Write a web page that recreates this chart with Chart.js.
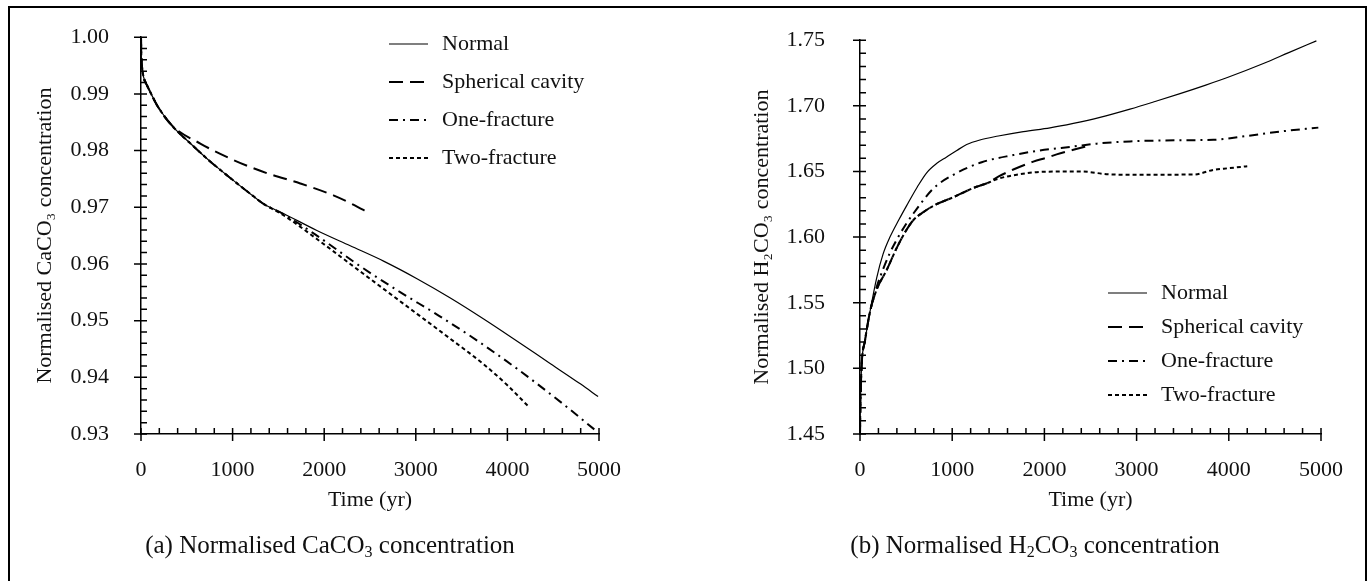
<!DOCTYPE html>
<html>
<head>
<meta charset="utf-8">
<script src="https://cdn.jsdelivr.net/npm/chart.js@4.4.1/dist/chart.umd.min.js"></script>
<style>
body{margin:0;background:#fff;width:1372px;height:581px;overflow:hidden;position:relative;font-family:"Liberation Serif","Times New Roman",serif;}
#frame{position:absolute;left:8px;top:6px;width:1355px;height:620px;border:2px solid #000;}
.box{position:absolute;top:0;width:686px;height:581px;}
.cap{position:absolute;top:531px;font-size:25px;line-height:28px;color:#111;white-space:nowrap;transform:translateX(-50%);}
.cap sub{font-size:16px;line-height:0;vertical-align:-4px;}
</style>
</head>
<body>
<div id="frame"></div>
<div class="box" style="left:0"><canvas id="caco3"></canvas></div>
<div class="box" style="left:686px"><canvas id="h2co3"></canvas></div>
<div class="cap" style="left:330px">(a) Normalised CaCO<sub>3</sub> concentration</div>
<div class="cap" style="left:1035px">(b) Normalised H<sub>2</sub>CO<sub>3</sub> concentration</div>
<script>
const labels = ['Normal', 'Spherical cavity', 'One-fracture', 'Two-fracture'];

// (a) CaCO3 - common early part, then each case
const caEarlyT = [0, 3, 11, 28, 66, 102, 175, 333];
const caEarly = [1.000, 0.9970, 0.9948, 0.9930, 0.9915, 0.9903, 0.9880, 0.9845];

const caNormalT = [543, 761, 1011, 1191, 1337, 1555, 1920, 2284, 2648, 3013, 3377, 3741, 4050, 4470, 4800, 4990];
const caNormal = [0.9812, 0.9780, 0.9747, 0.9724, 0.9706, 0.9689, 0.9659, 0.9632, 0.9605, 0.9574, 0.9540, 0.9503, 0.9470, 0.9424, 0.9388, 0.9366];

const caSphT = [652, 1014, 1377, 1739, 2101, 2300, 2500];
const caSph = [0.9812, 0.9783, 0.9760, 0.9742, 0.9721, 0.9706, 0.9689];

const caOneT = [543, 761, 1011, 1191, 1337, 1555, 1920, 2393, 2812, 3249, 3686, 4106, 4600, 4950];
const caOne = [0.9812, 0.9780, 0.9747, 0.9724, 0.9706, 0.9688, 0.9650, 0.9596, 0.9552, 0.9509, 0.9463, 0.9415, 0.9354, 0.9308];

const caTwoT = [543, 761, 1011, 1191, 1337, 1555, 1920, 2284, 2648, 3013, 3377, 3741, 4000, 4233];
const caTwo = [0.9812, 0.9780, 0.9747, 0.9724, 0.9706, 0.9686, 0.9644, 0.9600, 0.9556, 0.9512, 0.9468, 0.9423, 0.9386, 0.9348];

// (b) H2CO3
const hEarlyT = [0, 3, 8, 18, 54, 108];
const hEarly = [1.450, 1.468, 1.483, 1.503, 1.521, 1.543];

const hNormalT = [181, 250, 325, 420, 506, 620, 723, 830, 940, 1050, 1157, 1300, 1500, 1772, 2061, 2314, 2603, 2928, 3200, 3471, 3750, 4013, 4375, 4650, 4950];
const hNormal = [1.569, 1.587, 1.600, 1.613, 1.624, 1.638, 1.649, 1.656, 1.661, 1.666, 1.6705, 1.674, 1.677, 1.6804, 1.6832, 1.6866, 1.6912, 1.6975, 1.7033, 1.7093, 1.7158, 1.7223, 1.7322, 1.7405, 1.7495];

const hOneT = [181, 253, 325, 398, 500, 579, 795, 1000, 1320, 1663, 1952, 2314, 2567, 2928, 3471, 3832, 4194, 4555, 4971];
const hOne = [1.562, 1.576, 1.588, 1.598, 1.610, 1.618, 1.637, 1.647, 1.657, 1.6625, 1.666, 1.669, 1.6712, 1.6729, 1.6738, 1.6741, 1.6770, 1.6804, 1.6834];

const hLowT = [181, 290, 400, 500, 580, 687, 800, 1000, 1250, 1377];
const hLow = [1.560, 1.575, 1.592, 1.605, 1.613, 1.619, 1.624, 1.630, 1.638, 1.641];

const hSphT = [1500, 1663, 1880, 2025, 2133, 2314, 2500];
const hSph = [1.646, 1.6515, 1.6575, 1.6605, 1.6630, 1.6665, 1.6700];

const hTwoT = [1500, 1700, 2000, 2400, 2700, 3000, 3620, 3832, 4000, 4200];
const hTwo = [1.6445, 1.6475, 1.6498, 1.6500, 1.6478, 1.6475, 1.6477, 1.6512, 1.6525, 1.6540];

const xTicks = { min: 0, max: 5000, step: 200, major: 1000 };
const caTicks = { min: 0.93, max: 1.00, step: 0.002, major: 0.01 };
const hTicks = { min: 1.45, max: 1.75, step: 0.01, major: 0.05 };

const serif = '"Liberation Serif", "Times New Roman", serif';
Chart.defaults.font.family = serif;
Chart.defaults.color = '#111';

function pts(ts, vs) {
    return ts.map((t, i) => ({ x: t, y: vs[i] }));
}

const styles = [
    { borderWidth: 1.2, borderDash: [] },
    { borderWidth: 2, borderDash: [14, 7] },
    { borderWidth: 2, borderDash: [9, 5, 2, 5] },
    { borderWidth: 2, borderDash: [4, 3] }
];

function line(i, data) {
    return {
        label: labels[i],
        data: data,
        borderColor: '#000',
        borderWidth: styles[i].borderWidth,
        borderDash: styles[i].borderDash,
        pointRadius: 0,
        fill: false,
        clip: false,
        cubicInterpolationMode: 'monotone'
    };
}

function isMajor(v, step) {
    const r = v / step;
    return Math.abs(r - Math.round(r)) < 1e-6;
}

// major ticks cross the axis, minor ticks point inwards
const axisMarks = {
    id: 'axisMarks',
    afterDatasetsDraw(chart, args, opts) {
        const ctx = chart.ctx;
        const area = chart.chartArea;
        const { x, y } = chart.scales;
        ctx.save();
        ctx.strokeStyle = '#000';
        ctx.lineWidth = 1.5;
        ctx.beginPath();
        x.ticks.forEach(t => {
            const px = x.getPixelForValue(t.value);
            ctx.moveTo(px, area.bottom + (isMajor(t.value, opts.xMajor) ? 7 : 0));
            ctx.lineTo(px, area.bottom - 6);
        });
        y.ticks.forEach(t => {
            const py = y.getPixelForValue(t.value);
            ctx.moveTo(area.left - (isMajor(t.value, opts.yMajor) ? 7 : 0), py);
            ctx.lineTo(area.left + 6, py);
        });
        ctx.stroke();
        ctx.restore();
    }
};

const sideLegend = {
    id: 'sideLegend',
    afterDraw(chart, args, opts) {
        const ctx = chart.ctx;
        ctx.save();
        ctx.font = '22px ' + serif;
        ctx.textBaseline = 'middle';
        chart.data.datasets.forEach((ds, i) => {
            const yy = opts.top + i * opts.gap;
            ctx.strokeStyle = '#000';
            ctx.lineWidth = ds.borderWidth;
            ctx.setLineDash(ds.borderDash);
            ctx.beginPath();
            ctx.moveTo(opts.left, yy);
            ctx.lineTo(opts.left + 39, yy);
            ctx.stroke();
            ctx.setLineDash([]);
            ctx.fillStyle = '#111';
            ctx.fillText(ds.label, opts.left + 53, yy);
        });
        ctx.restore();
    }
};

function makeOptions(c) {
    return {
        responsive: true,
        maintainAspectRatio: false,
        animation: false,
        layout: { padding: { top: 37, right: c.padRight, bottom: 67, left: 0 } },
        plugins: {
            legend: { display: false },
            tooltip: { enabled: false },
            axisMarks: { xMajor: xTicks.major, yMajor: c.yt.major },
            sideLegend: c.legend
        },
        scales: {
            x: {
                type: 'linear',
                min: xTicks.min, max: xTicks.max,
                grid: { display: false },
                border: { display: true, color: '#000', width: 1.5 },
                ticks: {
                    stepSize: xTicks.step, autoSkip: false, maxRotation: 0, padding: 15,
                    color: '#111', font: { size: 22 },
                    callback: v => isMajor(v, xTicks.major) ? String(Math.round(v)) : ''
                },
                title: { display: true, text: 'Time (yr)', color: '#111', font: { size: 22 }, padding: { top: 0, bottom: 1 } },
                afterFit: s => { s.height = 80; }
            },
            y: {
                type: 'linear',
                min: c.yt.min, max: c.yt.max,
                grid: { display: false },
                border: { display: true, color: '#000', width: 1.5 },
                ticks: {
                    stepSize: c.yt.step, autoSkip: false, padding: c.yPad,
                    color: '#111', font: { size: 22 },
                    callback: v => isMajor(v, c.yt.major) ? v.toFixed(2) : ''
                },
                title: { display: true, text: c.yTitle, color: '#111', font: { size: 22 }, padding: { top: c.titlePad, bottom: 0 } },
                afterFit: s => { s.width = c.yWidth; }
            }
        }
    };
}

new Chart(document.getElementById('caco3'), {
    type: 'line',
    data: {
        datasets: [
            line(0, pts(caEarlyT.concat(caNormalT), caEarly.concat(caNormal))),
            line(1, pts(caEarlyT.concat(caSphT), caEarly.concat(caSph))),
            line(2, pts(caEarlyT.concat(caOneT), caEarly.concat(caOne))),
            line(3, pts(caEarlyT.concat(caTwoT), caEarly.concat(caTwo)))
        ]
    },
    options: makeOptions({
        yt: caTicks, yWidth: 141, padRight: 87, yPad: 24, titlePad: 32,
        yTitle: 'Normalised CaCO\u2083 concentration',
        legend: { left: 389, top: 44, gap: 38 }
    }),
    plugins: [axisMarks, sideLegend]
});

new Chart(document.getElementById('h2co3'), {
    type: 'line',
    data: {
        datasets: [
            line(0, pts(hEarlyT.concat(hNormalT), hEarly.concat(hNormal))),
            line(1, pts(hEarlyT.concat(hLowT, hSphT), hEarly.concat(hLow, hSph))),
            line(2, pts(hEarlyT.concat(hOneT), hEarly.concat(hOne))),
            line(3, pts(hEarlyT.concat(hLowT, hTwoT), hEarly.concat(hLow, hTwo)))
        ]
    },
    options: makeOptions({
        yt: hTicks, yWidth: 174, padRight: 51, yPad: 27, titlePad: 63,
        yTitle: 'Normalised H\u2082CO\u2083 concentration',
        legend: { left: 422, top: 293, gap: 34 }
    }),
    plugins: [axisMarks, sideLegend]
});
</script>
</body>
</html>
